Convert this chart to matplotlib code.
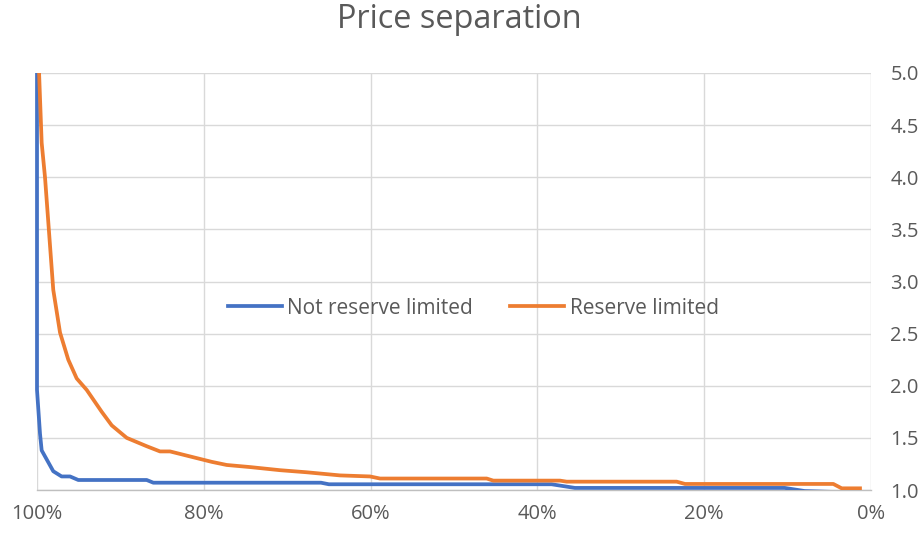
import matplotlib
matplotlib.use("Agg")
import matplotlib.pyplot as plt
from matplotlib.ticker import FuncFormatter
from matplotlib.transforms import Bbox, TransformedBbox

# Share of hours (%) at or above each price-separation level
not_limited_pct = [100.0, 100.0, 99.64, 99.44, 98.05, 97.05, 96.04, 95.05, 86.85, 86.05,
                   65.95, 65.0, 38.3, 35.5, 10.35, 7.95, 0.0]
not_limited_val = [5.0, 1.96, 1.54, 1.38, 1.18, 1.13, 1.13, 1.096, 1.096, 1.07,
                   1.07, 1.055, 1.055, 1.02, 1.02, 0.99, 0.97]

reserve_pct = [99.75, 99.44, 99.04, 98.05, 97.24, 96.25, 95.24, 94.04, 92.24, 91.04,
               89.24, 86.85, 85.25, 84.05, 79.05, 77.25, 74.46, 70.86, 67.66, 63.67,
               60.07, 58.87, 46.08, 45.29, 37.29, 36.49, 23.30, 22.30, 4.52, 3.51, 1.32]
reserve_val = [5.0, 4.33, 4.0, 2.92, 2.51, 2.25, 2.07, 1.96, 1.75, 1.62,
               1.50, 1.42, 1.37, 1.37, 1.27, 1.24, 1.22, 1.19, 1.17, 1.14,
               1.13, 1.11, 1.11, 1.09, 1.09, 1.08, 1.08, 1.058, 1.058, 1.016, 1.016]

x_ticks = [100, 80, 60, 40, 20, 0]
y_ticks = [1.0, 1.5, 2.0, 2.5, 3.0, 3.5, 4.0, 4.5, 5.0]

plt.rcParams['font.family'] = ['Open Sans', 'DejaVu Sans']
text_grey = '#595959'

fig = plt.figure(figsize=(9.22, 5.34), dpi=100)
ax = fig.add_axes([37 / 922, 1 - 490 / 534, (871 - 37) / 922, (490 - 73) / 534])

l1, = ax.plot(not_limited_pct, not_limited_val, color='#4472C4', lw=2.7,
              solid_joinstyle='round', label='Not reserve limited', zorder=3)
l2, = ax.plot(reserve_pct, reserve_val, color='#ED7D31', lw=2.7,
              solid_joinstyle='round', label='Reserve limited', zorder=3)

# let the series overhang the left edge slightly so the 100% line shows at full width
clip = TransformedBbox(Bbox.from_extents(-0.004, 0, 1.0, 1.0), ax.transAxes)
for ln in (l1, l2):
    ln.set_clip_box(clip)

ax.set_xlim(100, 0)
ax.set_ylim(1.0, 5.0)
ax.set_xticks(x_ticks)
ax.set_yticks(y_ticks)
ax.xaxis.set_major_formatter(FuncFormatter(lambda v, p: f"{v:.0f}%"))
ax.yaxis.set_major_formatter(FuncFormatter(lambda v, p: f"{v:.1f}"))
ax.yaxis.tick_right()
ax.tick_params(axis='both', length=0, labelsize=14.5, colors=text_grey)
ax.tick_params(axis='x', pad=10)
ax.tick_params(axis='y', pad=14)

ax.grid(True, color='#d9d9d9', lw=1.0, zorder=0)
ax.set_axisbelow(True)
for side in ['top', 'left', 'right']:
    ax.spines[side].set_visible(False)
ax.spines['bottom'].set_color('#bfbfbf')
ax.spines['bottom'].set_linewidth(1.0)

fig.suptitle('Price separation', x=459 / 922, y=1 - 20 / 534, va='center',
             fontsize=23.4, color=text_grey)

leg = fig.legend(loc='center', bbox_to_anchor=(473 / 922, 1 - 308 / 534), ncol=2,
                 frameon=False, fontsize=15, handlelength=2.6, columnspacing=1.8,
                 handletextpad=0.25, labelcolor=text_grey)

fig.savefig('out.png', dpi=100, facecolor='white')
